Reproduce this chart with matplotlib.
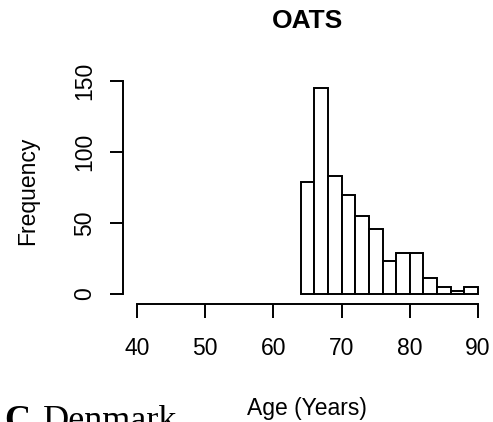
import matplotlib
matplotlib.use("Agg")
import matplotlib.pyplot as plt

# age distribution, 2-year bins
bin_left = [64, 66, 68, 70, 72, 74, 76, 78, 80, 82, 84, 86, 88]
counts = [79, 145, 83, 70, 55, 46, 23, 29, 29, 11, 5, 2, 5]
bin_width = 2
x_ticks = [40, 50, 60, 70, 80, 90]
y_ticks = [0, 50, 100, 150]

plt.rcParams['font.family'] = ['Liberation Sans', 'DejaVu Sans']

fig = plt.figure(figsize=(4.93, 4.22), dpi=100)
ax = fig.add_axes([0.2503, 0.2796, 0.7469, 0.5351])

ax.bar(bin_left, counts, width=bin_width, align='edge',
       color='white', edgecolor='black', linewidth=1.4)

ax.set_xlim(38, 92)
ax.set_ylim(-7.04, 152)

for s in ['top', 'right']:
    ax.spines[s].set_visible(False)
ax.spines['left'].set_bounds(0, 150)
ax.spines['bottom'].set_bounds(40, 90)
ax.spines['left'].set_linewidth(1.4)
ax.spines['bottom'].set_linewidth(1.4)

ax.set_xticks(x_ticks)
ax.set_yticks(y_ticks)
ax.set_yticklabels([str(v) for v in y_ticks], rotation=90, va='center')
ax.tick_params(axis='x', length=10, width=1.4, pad=14, labelsize=16.5)
ax.tick_params(axis='y', length=9.4, width=1.4, pad=10, labelsize=16.5)

ax.set_title('OATS', fontsize=19, fontweight='bold', pad=36)
ax.set_ylabel('Frequency', fontsize=16.5, labelpad=25)
fig.text(0.6217, 0.016, 'Age (Years)', ha='center', va='baseline', fontsize=16.5)

# panel caption along the bottom edge
fig.text(0.008, -0.02, 'C', ha='left', va='baseline', fontsize=26,
         fontweight='bold', family='Liberation Serif')
fig.text(0.087, -0.02, 'Denmark', ha='left', va='baseline', fontsize=26,
         family='Liberation Serif')

fig.savefig('out.png', dpi=100)
